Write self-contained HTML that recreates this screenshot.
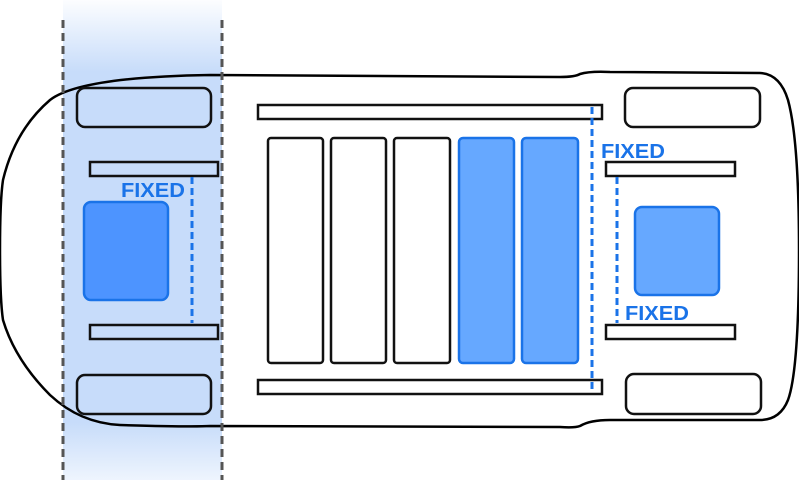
<!DOCTYPE html>
<html><head><style>body{margin:0;background:#fff}svg{display:block}</style></head><body>
<svg width="799" height="480" viewBox="0 0 799 480" xmlns="http://www.w3.org/2000/svg">
<defs>
<linearGradient id="g" x1="0" y1="0" x2="0" y2="1">
<stop offset="0" stop-color="#c7dcfa" stop-opacity="0.05"/>
<stop offset="0.15" stop-color="#c7dcfa" stop-opacity="1"/>
<stop offset="0.88" stop-color="#c7dcfa" stop-opacity="1"/>
<stop offset="1" stop-color="#c7dcfa" stop-opacity="0.3"/>
</linearGradient>
</defs>
<rect x="63" y="0" width="159" height="480" fill="url(#g)"/>
<path d="M210,75 L560,77 Q575,77 580,74 Q590,71 610,72 L760,73 Q780,74 788,100 Q799,140 799,250 Q799,370 788,400 Q780,420 760,420 L610,420 Q590,420 580,426 Q575,428 560,427 L210,426 Q190,427 120,425 Q80,423 50,395 Q15,360 3,320 Q0,300 0,250 Q0,200 3,180 Q15,130 50,100 Q80,77 210,75 Z" fill="none" stroke="#000" stroke-width="2.5"/>
<g fill="none" stroke="#111" stroke-width="2.5">
<rect x="77" y="88" width="134" height="39" rx="8"/>
<rect x="77" y="375" width="134" height="39" rx="8"/>
<rect x="625" y="88" width="135" height="39" rx="8"/>
<rect x="626" y="374" width="135" height="40" rx="8"/>
<rect x="90" y="162" width="128" height="14"/>
<rect x="90" y="325" width="128" height="14"/>
<rect x="258" y="105" width="344" height="14"/>
<rect x="258" y="380" width="344" height="14"/>
<rect x="606" y="162" width="129" height="14"/>
<rect x="606" y="325" width="129" height="14"/>
<rect x="268" y="138" width="55" height="225" rx="3"/>
<rect x="331" y="138" width="55" height="225" rx="3"/>
<rect x="394" y="138" width="56" height="225" rx="3"/>
</g>
<g fill="#66a8ff" stroke="#1a73e8" stroke-width="2.5">
<rect x="459" y="138" width="55" height="225" rx="4"/>
<rect x="522" y="138" width="56" height="225" rx="4"/>
<rect x="635" y="207" width="84" height="88" rx="7"/>
<rect x="84" y="202" width="84" height="98" rx="7" fill="#4d94ff"/>
</g>
<g stroke="#555" stroke-width="3" stroke-dasharray="8,5">
<line x1="63" y1="20" x2="63" y2="480"/>
<line x1="222" y1="20" x2="222" y2="480"/>
</g>
<g stroke="#1a73e8" stroke-width="3" stroke-dasharray="7,4">
<line x1="192" y1="177" x2="192" y2="323"/>
<line x1="592" y1="107" x2="592" y2="393"/>
<line x1="617" y1="177" x2="617" y2="323"/>
</g>
<g fill="#1a73e8" font-family="Liberation Sans, sans-serif" font-weight="bold" font-size="20">
<text x="121" y="197" textLength="64" lengthAdjust="spacingAndGlyphs">FIXED</text>
<text x="601" y="158" textLength="64" lengthAdjust="spacingAndGlyphs">FIXED</text>
<text x="625" y="320" textLength="64" lengthAdjust="spacingAndGlyphs">FIXED</text>
</g>
</svg>
</body></html>
